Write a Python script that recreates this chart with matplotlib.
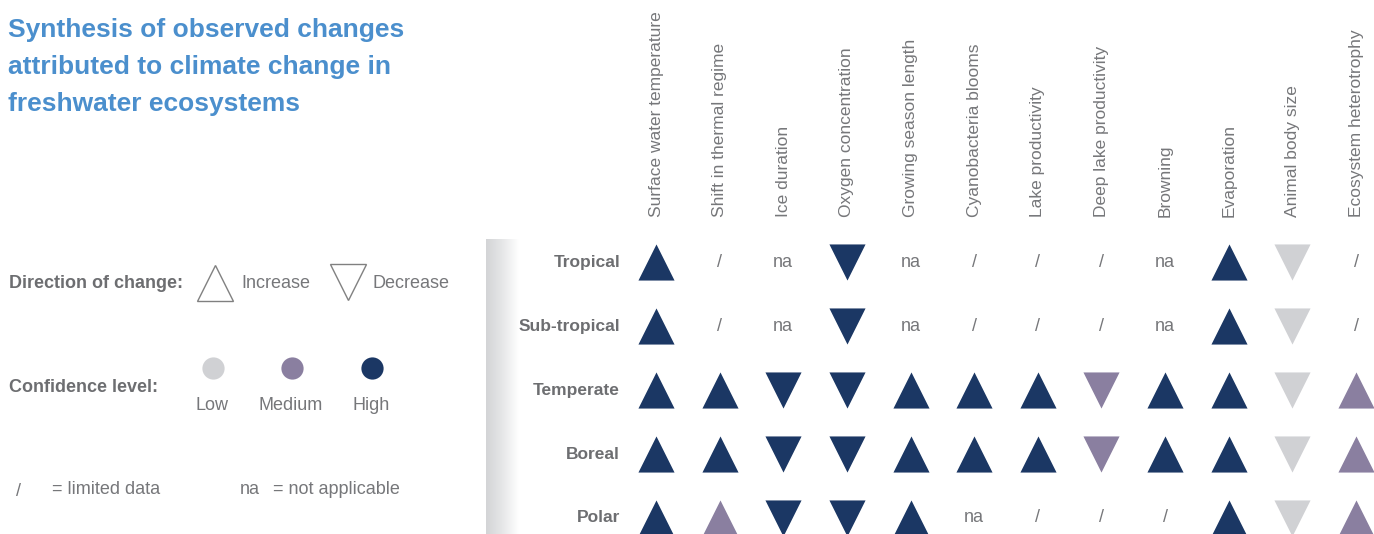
import matplotlib.pyplot as plt
import numpy as np
from matplotlib.colors import LinearSegmentedColormap

plt.rcParams['font.family'] = ['Liberation Sans', 'DejaVu Sans']

regions = ['Tropical', 'Sub-tropical', 'Temperate', 'Boreal', 'Polar']
variables = ['Surface water temperature', 'Shift in thermal regime', 'Ice duration',
             'Oxygen concentration', 'Growing season length', 'Cyanobacteria blooms',
             'Lake productivity', 'Deep lake productivity', 'Browning', 'Evaporation',
             'Animal body size', 'Ecosystem heterotrophy']

# '+' increase / '-' decrease, then confidence H/M/L; '/' limited data, 'na' not applicable
tropical    = ['+H', '/', 'na', '-H', 'na', '/', '/', '/', 'na', '+H', '-L', '/']
subtropical = ['+H', '/', 'na', '-H', 'na', '/', '/', '/', 'na', '+H', '-L', '/']
temperate   = ['+H', '+H', '-H', '-H', '+H', '+H', '+H', '-M', '+H', '+H', '-L', '+M']
boreal      = ['+H', '+H', '-H', '-H', '+H', '+H', '+H', '-M', '+H', '+H', '-L', '+M']
polar       = ['+H', '+M', '-H', '-H', '+H', 'na', '/', '/', '/', '+H', '-L', '+M']
grid = [tropical, subtropical, temperate, boreal, polar]

conf_colors = {'H': '#1b3764', 'M': '#8a7fa0', 'L': '#d0d1d4'}
conf_names = ['Low', 'Medium', 'High']
title_lines = ['Synthesis of observed changes', 'attributed to climate change in',
               'freshwater ecosystems']

grey = '#6d6e71'
light = '#76777a'
W, H = 1374, 534

fig = plt.figure(figsize=(W / 100, H / 100), dpi=100)

# overlay axes in pixel units for the title and key
ax0 = fig.add_axes([0, 0, 1, 1])
ax0.set_xlim(0, W)
ax0.set_ylim(H, 0)
ax0.axis('off')

for k, line in enumerate(title_lines):
    ax0.text(8, 30 + 37 * k, line, fontsize=19, fontweight='bold', color='#4b8fcd',
             ha='left', va='center')

ax0.text(9, 283, 'Direction of change:', fontsize=13, fontweight='bold', color=grey, va='center')
ax0.plot(215, 283, marker='^', markersize=26, mfc='none', mec='#808080', mew=1)
ax0.text(241, 283, 'Increase', fontsize=13, color=light, va='center')
ax0.plot(348, 282, marker='v', markersize=26, mfc='none', mec='#808080', mew=1)
ax0.text(372, 283, 'Decrease', fontsize=13, color=light, va='center')

ax0.text(9, 388, 'Confidence level:', fontsize=13, fontweight='bold', color=grey, va='center')
for k, (name, c) in enumerate(zip(conf_names, ['L', 'M', 'H'])):
    cx = [213, 292, 372][k]
    ax0.plot(cx, 368, marker='o', markersize=16, color=conf_colors[c], mew=0)
    ax0.text(cx - 1, 406, name, fontsize=13, color=light, ha='center', va='center')

ax0.text(19, 491, '/', fontsize=13, color=light, ha='center', va='center')
ax0.text(52, 489, '= limited data', fontsize=13, color=light, va='center')
ax0.text(250, 489, 'na', fontsize=13, color=light, ha='center', va='center')
ax0.text(273, 489, '= not applicable', fontsize=13, color=light, va='center')

# grey shadow at the left of the grid
axs = fig.add_axes([486 / W, 0, 33 / W, 295 / H])
cmap = LinearSegmentedColormap.from_list('shade', ['#d3d4d6', '#e6e7e8', '#ffffff'])
axs.imshow(np.linspace(0, 1, 100)[None, :], aspect='auto', cmap=cmap, extent=[0, 1, 0, 1])
axs.axis('off')

# main grid
d = 63.64
ax = fig.add_axes([624 / W, 0, 750 / W, 304 / H])
ax.set_xlim(-32 / d, (W - 656) / d)
ax.set_ylim((H - 262) / 64, -0.5)
ax.axis('off')

for i, row in enumerate(grid):
    for j, code in enumerate(row):
        if code[0] in '+-':
            m = '^' if code[0] == '+' else 'v'
            ax.scatter(j, i, marker=m, s=26 ** 2, color=conf_colors[code[1]],
                       linewidths=0, clip_on=False)
        else:
            ax.text(j, i, code, fontsize=13, color=light, ha='center', va='center')

for i, r in enumerate(regions):
    ax.text(-36 / d, i, r, fontsize=12.5, fontweight='bold', color=grey,
            ha='right', va='center')

for j, v in enumerate(variables):
    ax.text(j, -0.7, v, fontsize=12.5, color=light, rotation=90,
            ha='center', va='bottom', clip_on=False)

fig.savefig('out.png', dpi=100)
